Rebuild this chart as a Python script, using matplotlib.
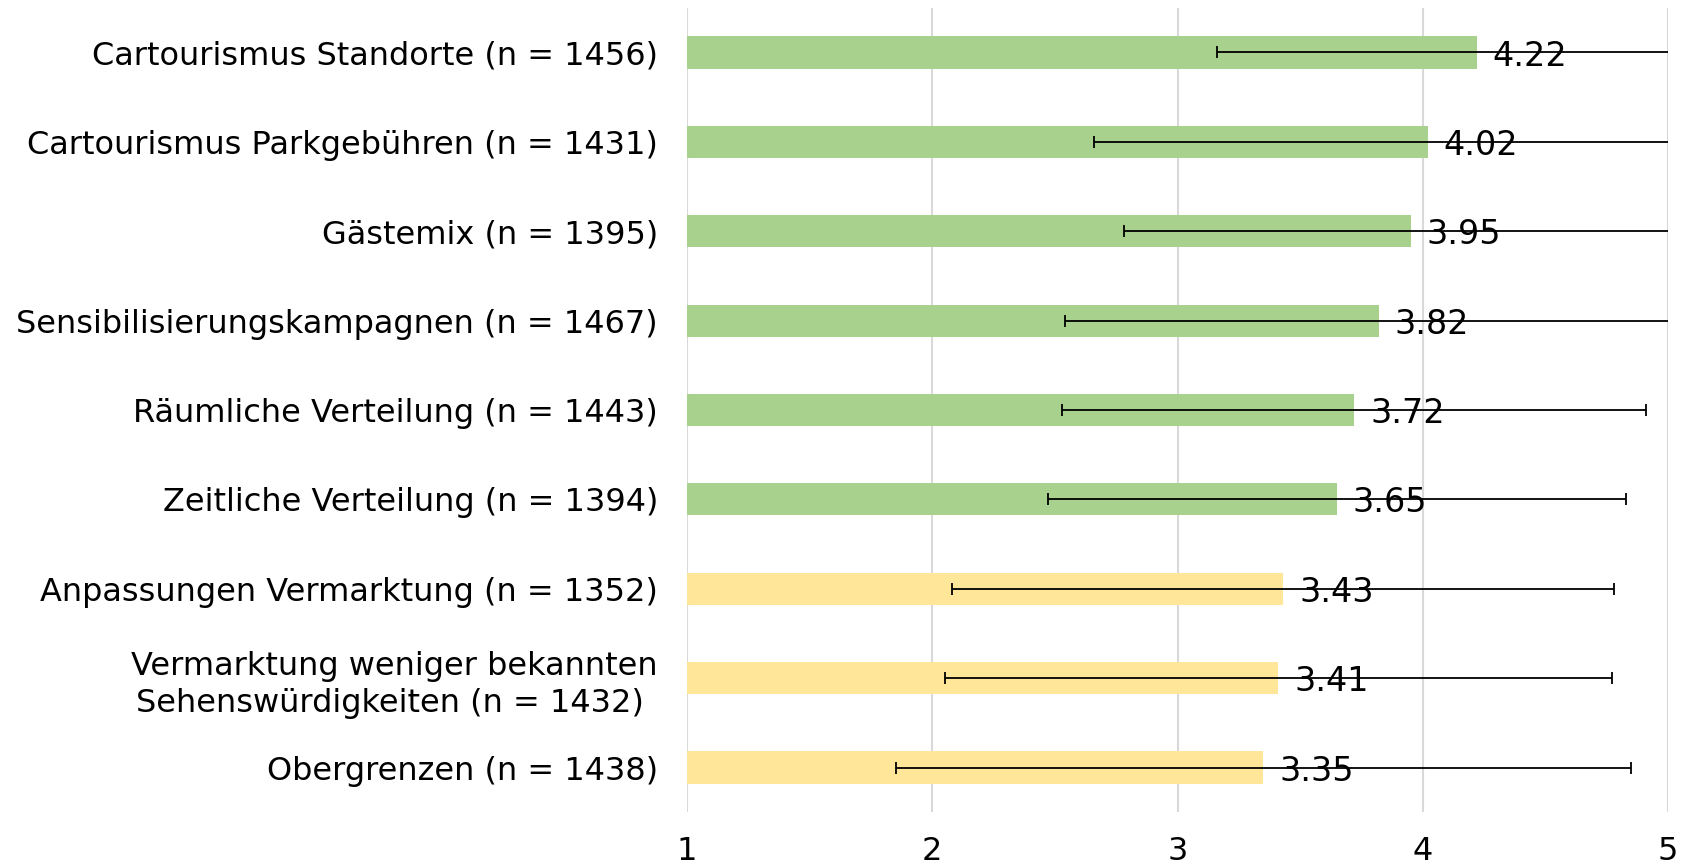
import numpy as np
import matplotlib
matplotlib.use("Agg")
import matplotlib.pyplot as plt

# Mittelwerte und Standardabweichungen (von oben nach unten)
labels = [
    "Cartourismus Standorte (n = 1456)",
    "Cartourismus Parkgebühren (n = 1431)",
    "Gästemix (n = 1395)",
    "Sensibilisierungskampagnen (n = 1467)",
    "Räumliche Verteilung (n = 1443)",
    "Zeitliche Verteilung (n = 1394)",
    "Anpassungen Vermarktung (n = 1352)",
    "Vermarktung weniger bekannten\nSehenswürdigkeiten (n = 1432) ",
    "Obergrenzen (n = 1438)",
]
means = [4.22, 4.02, 3.95, 3.82, 3.72, 3.65, 3.43, 3.41, 3.35]
sds = [1.06, 1.36, 1.17, 1.28, 1.19, 1.18, 1.35, 1.36, 1.50]
groups = ["g", "g", "g", "g", "g", "g", "y", "y", "y"]
colors = {"g": "#A9D18E", "y": "#FFE699"}

plt.rcParams["font.family"] = ["DejaVu Sans"]

fig = plt.figure(figsize=(16.94, 8.65), dpi=100)
ax = fig.add_axes([0.4056, 0.061, 0.5791, 0.930])

y = np.arange(len(labels))
ax.barh(y, np.array(means) - 1, left=1, height=0.36,
        color=[colors[g] for g in groups], zorder=2)
ax.errorbar(means, y, xerr=sds, fmt="none", ecolor="black",
            elinewidth=1.3, capsize=4, capthick=1.3, zorder=3)

for yi, m in zip(y, means):
    ax.text(m + 0.065, yi + 0.04, f"{m:.2f}", va="center", ha="left",
            fontsize=24, zorder=4)

ax.set_xlim(1, 5)
ax.set_ylim(len(labels) - 0.5, -0.5)
ax.set_xticks([1, 2, 3, 4, 5])
ax.set_yticks(y)
ax.set_yticklabels(labels, fontsize=23, multialignment="center",
                   linespacing=1.25)
ax.tick_params(axis="x", labelsize=23, length=0, pad=17)
ax.tick_params(axis="y", length=0, pad=21)
ax.grid(axis="x", color="#D9D9D9", linewidth=1.5, zorder=0)
for s in ax.spines.values():
    s.set_visible(False)

fig.savefig("out.png", dpi=100)
